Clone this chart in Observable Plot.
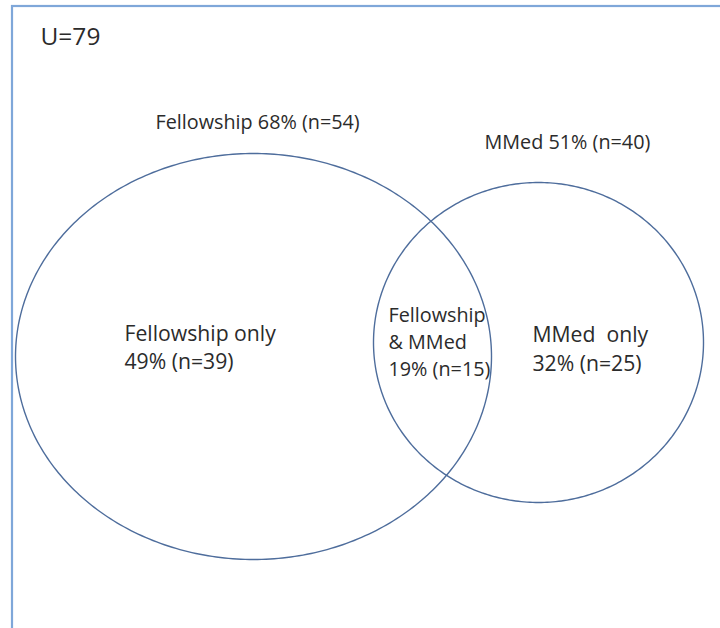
<!DOCTYPE html>
<html>
<head>
<meta charset="utf-8">
<script src="https://cdn.jsdelivr.net/npm/d3@7"></script>
<script src="https://cdn.jsdelivr.net/npm/@observablehq/plot@0.6"></script>
<style>
  html, body { margin: 0; padding: 0; background: #fff; }
  #chart svg { display: block; }
</style>
</head>
<body>
<div id="chart"></div>
<script>
// ---- data ----
const universeLabel = "U=79";
const setNames = ["Fellowship", "MMed"];
const setPercents = [68, 51];
const setCounts = [54, 40];
const regionNames = ["Fellowship only", "Fellowship\n& MMed", "MMed  only"];
const regionPercents = [49, 19, 32];
const regionCounts = [39, 15, 25];

// ---- layout (pixel geometry of the drawing) ----
const W = 720, H = 628;
const ellipses = [
  {set: "Fellowship", cx: 253, cy: 356, rx: 238, ry: 203},
  {set: "MMed", cx: 538, cy: 342, rx: 165, ry: 160}
];
const setLabelPos = [{x: 155, y: 122}, {x: 484, y: 142}];
const regionLabelPos = [{x: 124, y: 346}, {x: 388, y: 340}, {x: 532, y: 347}];
const regionFontSizes = [21.2, 19.8, 21.2];
const regionLineHeights = [1.32, 1.36, 1.36];

// ellipse outlines as point lists (geometry only)
const outline = ellipses.flatMap(e =>
  d3.range(0, 361, 1).map(a => ({
    set: e.set,
    x: e.cx + e.rx * Math.cos(a * Math.PI / 180),
    y: e.cy + e.ry * Math.sin(a * Math.PI / 180)
  }))
);

const setLabels = setNames.map((n, i) => ({
  text: `${n} ${setPercents[i]}% (n=${setCounts[i]})`,
  ...setLabelPos[i]
}));
const regionLabels = regionNames.map((n, i) => ({
  text: `${n}\n${regionPercents[i]}% (n=${regionCounts[i]})`,
  size: regionFontSizes[i],
  lh: regionLineHeights[i],
  ...regionLabelPos[i]
}));

const font = "'Open Sans', Lato, sans-serif";

const chart = Plot.plot({
  width: W,
  height: H,
  margin: 0,
  x: {domain: [0, W], range: [0, W], axis: null},
  y: {domain: [0, H], range: [0, H], axis: null},
  style: {background: "#fff", fontFamily: font},
  marks: [
    Plot.rect([{x1: 12, y1: 6, x2: W + 20, y2: H + 20}], {
      x1: "x1", y1: "y1", x2: "x2", y2: "y2",
      fill: "none", stroke: "#7fa7d9", strokeWidth: 2.2
    }),
    Plot.line(outline, {
      x: "x", y: "y", z: "set",
      stroke: "#4e6d9c", strokeWidth: 1.4, curve: "linear"
    }),
    Plot.text([{text: universeLabel, x: 40, y: 37}], {
      x: "x", y: "y", text: "text", textAnchor: "start", lineAnchor: "middle",
      fontSize: 24.5, fill: "#2b2b2b", fontFamily: font
    }),
    Plot.text(setLabels, {
      x: "x", y: "y", text: "text", textAnchor: "start", lineAnchor: "middle",
      fontSize: 19.8, fill: "#2b2b2b", fontFamily: font
    }),
    ...regionLabels.map(r => Plot.text([r], {
      x: "x", y: "y", text: "text", textAnchor: "start", lineAnchor: "middle",
      fontSize: r.size, lineHeight: r.lh, fill: "#2b2b2b", fontFamily: font
    }))
  ]
});
document.getElementById("chart").append(chart);
</script>
</body>
</html>
